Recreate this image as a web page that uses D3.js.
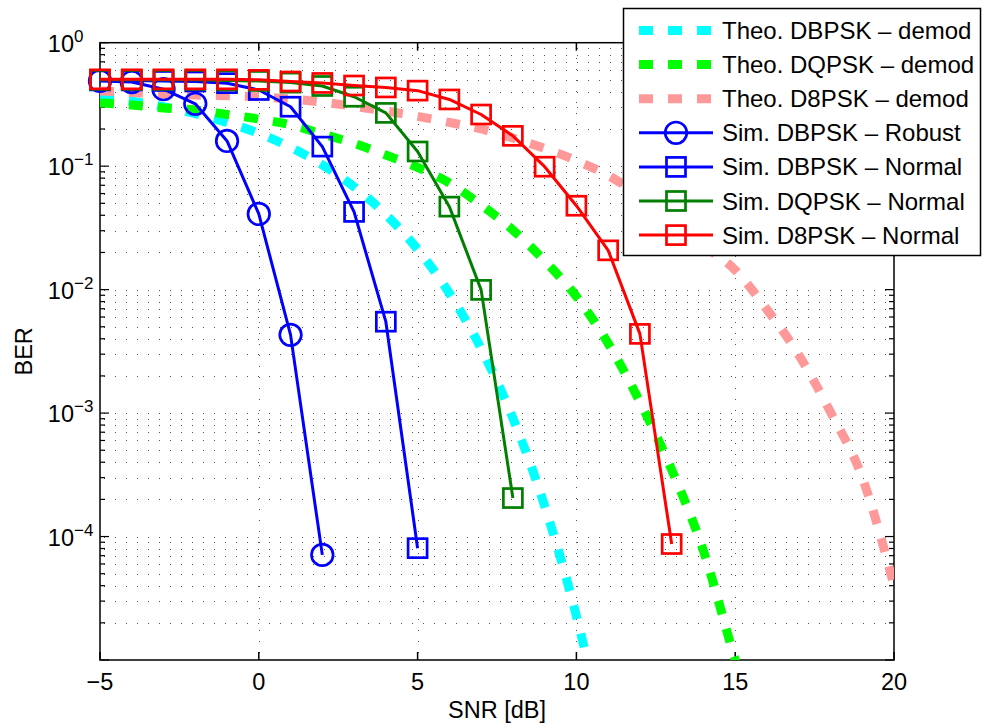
<!DOCTYPE html>
<html><head><meta charset="utf-8">
<script src="https://cdn.jsdelivr.net/npm/d3@7"></script>
<style>
body{margin:0;background:#fff;}
text{font-family:"Liberation Sans",Arial,Helvetica,sans-serif;fill:#000;}
</style>
</head><body>
<svg id="chart" width="982" height="725"></svg>
<script>
// ---------- data ----------
const xTicks = [-5, 0, 5, 10, 15, 20];
const yTickExps = [0, -1, -2, -3, -4];
const xLabel = "SNR [dB]";
const yLabel = "BER";

const theoSnrDBPSK = [-5,-4,-3,-2,-1,0,1,2,3,4,5,6,7,8,9,10,10.5];
const theoBerDBPSK = [0.364,0.336,0.303,0.266,0.226,0.184,0.142,0.1025,0.068,0.0406,0.0212,0.00934,0.00333,0.00091,0.000177,0.0000227,0.0000067];

const theoSnrDQPSK = [-5,-4,-3,-2,-1,0,1,2,3,4,5,6,7,8,9,10,11,12,13,14,15,15.5];
const theoBerDQPSK = [0.325,0.313,0.296,0.285,0.262,0.241,0.216,0.182,0.153,0.123,0.0976,0.0731,0.0485,0.0304,0.0171,0.00878,0.00367,0.00123,0.000347,0.0000766,0.00001,0.0000038];

const theoSnrD8PSK = [-5,-4,-3,-2,-1,0,1,2,3,4,5,6,7,8,9,10,11,12,13,14,15,16,17,18,19,20];
const theoBerD8PSK = [0.406,0.395,0.384,0.377,0.372,0.365,0.350,0.330,0.305,0.280,0.253,0.226,0.200,0.169,0.139,0.111,0.0841,0.0574,0.0360,0.0228,0.0144,0.0069,0.00296,0.00102,0.00030,0.00004];

const simSnrRobust = [-5,-4,-3,-2,-1,0,1,2];
const simBerRobust = [0.49,0.48,0.42,0.32,0.16,0.041,0.0043,0.000071];

const simSnrDBPSK = [-5,-4,-3,-2,-1,0,1,2,3,4,5];
const simBerDBPSK = [0.495,0.495,0.49,0.485,0.47,0.414,0.303,0.144,0.0426,0.0055,0.0000805];

const simSnrDQPSK = [-5,-4,-3,-2,-1,0,1,2,3,4,5,6,7,8];
const simBerDQPSK = [0.5,0.5,0.5,0.5,0.495,0.49,0.475,0.446,0.365,0.27,0.1315,0.047,0.00995,0.000205];

const simSnrD8PSK = [-5,-4,-3,-2,-1,0,1,2,3,4,5,6,7,8,9,10,11,12,13];
const simBerD8PSK = [0.505,0.505,0.505,0.505,0.505,0.50,0.485,0.472,0.45,0.434,0.409,0.347,0.262,0.176,0.099,0.0478,0.0208,0.00438,0.000087];

const seriesNames = ["Theo. DBPSK \u2013 demod","Theo. DQPSK \u2013 demod","Theo. D8PSK \u2013 demod",
  "Sim. DBPSK \u2013 Robust","Sim. DBPSK \u2013 Normal","Sim. DQPSK \u2013 Normal","Sim. D8PSK \u2013 Normal"];

// ---------- layout / style ----------
const L = 100, R = 894, T = 42.7, B = 660;
const svg = d3.select("#chart");
const x = d3.scaleLinear().domain([-5, 20]).range([L, R]);
const y = d3.scaleLog().domain([1e-5, 1]).range([B, T]);

const series = [
  {name: seriesNames[0], snr: theoSnrDBPSK, ber: theoBerDBPSK, color: "#00ffff", theo: true},
  {name: seriesNames[1], snr: theoSnrDQPSK, ber: theoBerDQPSK, color: "#00ff00", theo: true},
  {name: seriesNames[2], snr: theoSnrD8PSK, ber: theoBerD8PSK, color: "#ff9999", theo: true},
  {name: seriesNames[3], snr: simSnrRobust, ber: simBerRobust, color: "#0000ff", marker: "circle"},
  {name: seriesNames[4], snr: simSnrDBPSK, ber: simBerDBPSK, color: "#0000ff", marker: "square"},
  {name: seriesNames[5], snr: simSnrDQPSK, ber: simBerDQPSK, color: "#007f00", marker: "square"},
  {name: seriesNames[6], snr: simSnrD8PSK, ber: simBerD8PSK, color: "#ff0000", marker: "square"}
];

const FS = 23.5;

// clip
svg.append("defs").append("clipPath").attr("id","plotclip")
  .append("rect").attr("x", L).attr("y", T).attr("width", R - L).attr("height", B - T);

// ---------- grid ----------
const grid = svg.append("g").attr("stroke", "#555").attr("stroke-width", 1)
  .attr("stroke-dasharray", "1 10").attr("shape-rendering", "crispEdges");
const minorVals = [];
for (let e = -5; e <= 0; e++) {
  for (let m = 1; m <= 9; m++) {
    const v = m * Math.pow(10, e);
    if (v >= 1e-5 && v <= 1) minorVals.push(v);
  }
}
grid.selectAll("line.h").data(minorVals.filter(v => v > 1e-5 && v < 1)).enter().append("line")
  .attr("x1", L + 4).attr("x2", R - 2)
  .attr("y1", d => Math.round(y(d)) + 0.5).attr("y2", d => Math.round(y(d)) + 0.5);
grid.selectAll("line.v").data(xTicks.filter(t => t > -5 && t < 20)).enter().append("line")
  .attr("y1", T + 4).attr("y2", B - 2)
  .attr("x1", d => Math.round(x(d)) + 0.5).attr("x2", d => Math.round(x(d)) + 0.5);

// ---------- axes box & ticks ----------
const ax = svg.append("g").attr("stroke", "#000").attr("stroke-width", 1.5).attr("fill", "none");
ax.append("rect").attr("x", L).attr("y", T).attr("width", R - L).attr("height", B - T);
xTicks.forEach(t => {
  ax.append("line").attr("x1", x(t)).attr("x2", x(t)).attr("y1", B).attr("y2", B - 8);
  ax.append("line").attr("x1", x(t)).attr("x2", x(t)).attr("y1", T).attr("y2", T + 8);
});
minorVals.forEach(v => {
  const isMajor = Math.abs(Math.log10(v) - Math.round(Math.log10(v))) < 1e-9;
  const len = isMajor ? 9 : 5;
  ax.append("line").attr("x1", L).attr("x2", L + len).attr("y1", y(v)).attr("y2", y(v)).attr("stroke-width", 1.2);
  ax.append("line").attr("x1", R).attr("x2", R - len).attr("y1", y(v)).attr("y2", y(v)).attr("stroke-width", 1.2);
});

// tick labels
xTicks.forEach(t => {
  svg.append("text").attr("x", x(t)).attr("y", 690).attr("text-anchor", "middle")
    .attr("font-size", FS).text(t < 0 ? "\u2212" + Math.abs(t) : String(t));
});
yTickExps.forEach(e => {
  const yy = y(Math.pow(10, e));
  svg.append("text").attr("x", 74).attr("y", yy + 9).attr("text-anchor", "end")
    .attr("font-size", FS).text("10");
  svg.append("text").attr("x", 74).attr("y", yy - 1).attr("text-anchor", "start")
    .attr("font-size", 17).text(e === 0 ? "0" : "\u2212" + Math.abs(e));
});

// axis labels
svg.append("text").attr("x", (L + R) / 2).attr("y", 718).attr("text-anchor", "middle")
  .attr("font-size", FS).text(xLabel);
svg.append("text").attr("transform", `translate(32,${(T + B) / 2}) rotate(-90)`)
  .attr("text-anchor", "middle").attr("font-size", FS).text(yLabel);

// ---------- data ----------
const line = d3.line().x(d => x(d[0])).y(d => y(d[1]));
const plot = svg.append("g");
series.forEach(s => {
  const pts = s.snr.map((v, i) => [v, s.ber[i]]);
  if (s.theo) {
    plot.append("path").attr("clip-path", "url(#plotclip)")
      .attr("d", line.curve(d3.curveMonotoneX)(pts))
      .attr("fill", "none").attr("stroke", s.color).attr("stroke-width", 9)
      .attr("stroke-dasharray", "14 15");
  } else {
    plot.append("path").attr("clip-path", "url(#plotclip)")
      .attr("d", line.curve(d3.curveLinear)(pts))
      .attr("fill", "none").attr("stroke", s.color).attr("stroke-width", 3)
      .attr("stroke-linejoin", "round");
    const g = plot.append("g").attr("fill", "none").attr("stroke", s.color).attr("stroke-width", 2.7);
    pts.forEach(p => {
      if (s.marker === "circle") {
        g.append("circle").attr("cx", x(p[0])).attr("cy", y(p[1])).attr("r", 10.8);
      } else {
        g.append("rect").attr("x", x(p[0]) - 9.5).attr("y", y(p[1]) - 9.5).attr("width", 19).attr("height", 19);
      }
    });
  }
});

// ---------- legend ----------
const lg = svg.append("g");
lg.append("rect").attr("x", 623.5).attr("y", 8.5).attr("width", 357).attr("height", 247)
  .attr("fill", "#fff").attr("stroke", "#000").attr("stroke-width", 1.5);
series.forEach((s, i) => {
  const cy = 30.5 + i * 34.1;
  if (s.theo) {
    lg.append("line").attr("x1", 639).attr("x2", 713).attr("y1", cy).attr("y2", cy)
      .attr("stroke", s.color).attr("stroke-width", 9).attr("stroke-dasharray", "14 15");
  } else {
    lg.append("line").attr("x1", 639).attr("x2", 713).attr("y1", cy).attr("y2", cy)
      .attr("stroke", s.color).attr("stroke-width", 3);
    if (s.marker === "circle") {
      lg.append("circle").attr("cx", 676).attr("cy", cy).attr("r", 10.8)
        .attr("fill", "none").attr("stroke", s.color).attr("stroke-width", 2.7);
    } else {
      lg.append("rect").attr("x", 666.5).attr("y", cy - 9.5).attr("width", 19).attr("height", 19)
        .attr("fill", "none").attr("stroke", s.color).attr("stroke-width", 2.7);
    }
  }
  lg.append("text").attr("x", 722).attr("y", cy + 8.5).attr("font-size", 24).text(s.name);
});
</script>
</body></html>
